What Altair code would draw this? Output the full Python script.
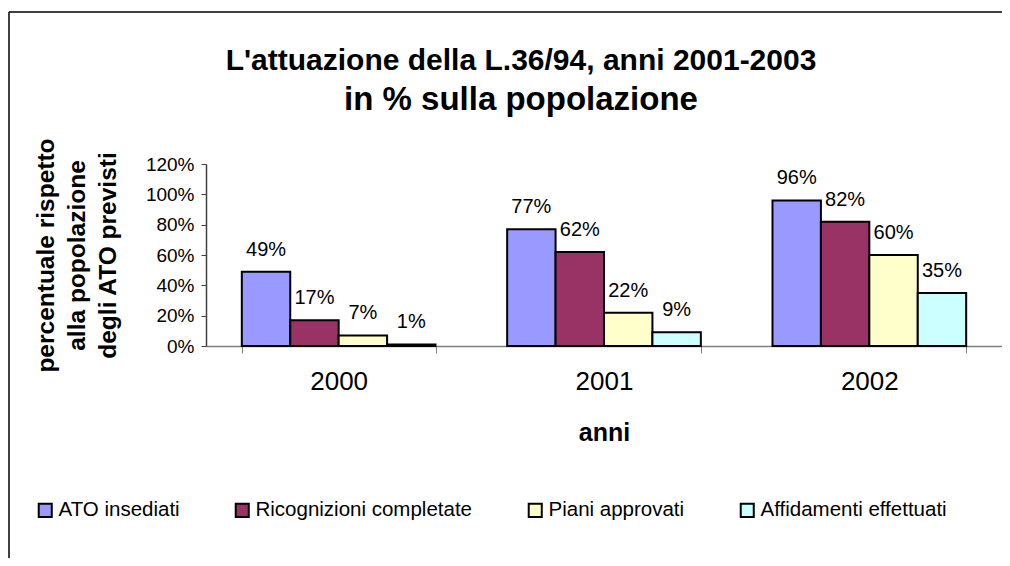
import altair as alt
import pandas as pd

years = ["2000", "2001", "2002"]
series = ["ATO insediati", "Ricognizioni completate", "Piani approvati", "Affidamenti effettuati"]
ato = [0.49, 0.77, 0.96]
ricognizioni = [0.17, 0.62, 0.82]
piani = [0.07, 0.22, 0.60]
affidamenti = [0.01, 0.09, 0.35]
colors = ["#9999FF", "#993366", "#FFFFCC", "#CCFFFF"]
y_ticks = [0, 0.2, 0.4, 0.6, 0.8, 1.0, 1.2]
y_title = ["percentuale rispetto", "alla popolazione", "degli ATO previsti"]

rows = []
for s, vals in zip(series, [ato, ricognizioni, piani, affidamenti]):
    for yr, v in zip(years, vals):
        rows.append({"anno": yr, "serie": s, "valore": v})
df = pd.DataFrame(rows)

W, H = 796, 182
FONT = "Liberation Sans"

x_enc = alt.X(
    "anno:N", sort=years,
    scale=alt.Scale(paddingInner=0.27, paddingOuter=0.135),
    axis=alt.Axis(
        title="anni", labelAngle=0, labelFontSize=26, labelPadding=15,
        labelColor="black", tickBand="extent", tickSize=7,
        domainColor="#808080", tickColor="#808080", domainWidth=1.5,
        titleFontSize=25, titleFontWeight="bold", titleColor="black",
        titleY=86, titleBaseline="middle",
    ),
)
y_enc = alt.Y(
    "valore:Q",
    scale=alt.Scale(domain=[0, 1.2], nice=False),
    axis=alt.Axis(
        values=y_ticks, format=".0%", labelFontSize=19, labelColor="black",
        tickSize=5, labelPadding=7, grid=False,
        domainColor="#404040", tickColor="#404040", domainWidth=1.5,
        title=y_title, titleFontSize=24.5, titleFontWeight="bold", titleColor="black",
        titleLineHeight=31, titleX=-172, titleY=91, titleAngle=270,
        titleBaseline="top", titleAlign="center",
    ),
)
xoff = alt.XOffset("serie:N", sort=series, scale=alt.Scale(paddingInner=0, paddingOuter=0))

bars = alt.Chart(df).mark_bar(stroke="black", strokeWidth=2).encode(
    x=x_enc, xOffset=xoff, y=y_enc,
    color=alt.Color(
        "serie:N", sort=series,
        scale=alt.Scale(domain=series, range=colors),
        legend=alt.Legend(
            title=None, orient="none", direction="horizontal",
            legendX=-171, legendY=336, padding=0,
            symbolType="square", symbolSize=170, symbolStrokeColor="black",
            symbolStrokeWidth=2, symbolOpacity=1,
            labelFontSize=20.5, labelColor="black", labelOffset=3,
            columnPadding=51, labelLimit=400,
        ),
    ),
)

labels = alt.Chart(df).mark_text(dy=-22, fontSize=20, baseline="middle", color="black").encode(
    x=x_enc, xOffset=xoff, y=y_enc,
    text=alt.Text("valore:Q", format=".0%"),
)

one = pd.DataFrame({"k": [0]})
frame_top = alt.Chart(one).mark_rule(color="black", strokeWidth=1.5).encode(
    x=alt.value(-197), x2=alt.value(900), y=alt.value(-152)
)
frame_left = alt.Chart(one).mark_rule(color="black", strokeWidth=1.5).encode(
    x=alt.value(-197), y=alt.value(-152), y2=alt.value(402)
)

chart = alt.layer(frame_top, frame_left, bars, labels).properties(
    width=W, height=H,
    title=alt.Title(
        text="L'attuazione della L.36/94, anni 2001-2003",
        subtitle="in % sulla popolazione",
        fontSize=30, fontWeight="bold", color="black",
        subtitleFontSize=33, subtitleFontWeight="bold", subtitleColor="black",
        subtitlePadding=8, anchor="middle", frame="group", dx=-83, dy=110,
    ),
    autosize=alt.AutoSizeParams(type="none"),
    padding={"left": 198, "top": 156, "right": 0, "bottom": 212},
).configure(font=FONT).configure_view(stroke=None)

chart.save("out.html", embed_options={"renderer": "svg", "actions": False})
